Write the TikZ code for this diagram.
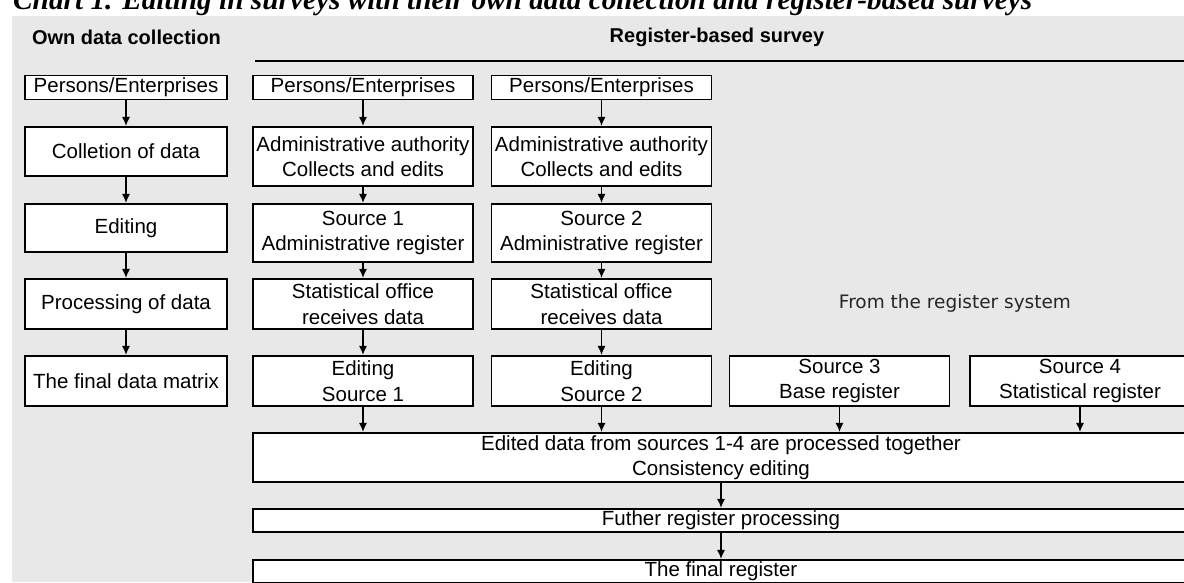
\documentclass[tikz,border=0pt]{standalone}
\usepackage{fontspec}
\setmainfont{Liberation Sans}
\newfontfamily\titlefont{Liberation Serif}
\newfontfamily\sysfont{DejaVu Sans}
\usetikzlibrary{arrows.meta}
\definecolor{panelgray}{RGB}{232,232,232}
\newcommand\boxtext{\fontsize{20.5}{25.5}\selectfont}
\begin{document}
\begin{tikzpicture}[x=1pt,y=-1pt,
  box/.style={draw, line width=1.7pt, fill=white, inner sep=0pt, align=center, font=\boxtext},
  colbox/.style={box, minimum width=202pt},
  regbox/.style={box, minimum width=220pt},
  widebox/.style={box, minimum width=936pt},
  flow/.style={-{Latex[length=9pt,width=8pt]}, line width=1.2pt},
  head/.style={font=\fontsize{20}{24}\selectfont\bfseries}]
  \useasboundingbox (0,0) rectangle (1184,583);
  \clip (0,0) rectangle (1184,583);
  \node[anchor=base west, inner sep=0pt, font=\titlefont\fontsize{29.3}{32}\selectfont\bfseries\itshape] (title) at (13,10) {Chart 1. Editing in surveys with their own data collection and register-based surveys};
  \fill[panelgray] (12,16) rectangle (1190,582);
  \node[head] (ownhead) at (126.5,37) {Own data collection};
  \node[head] (reghead) at (717,37) {Register-based survey};
  \draw[line width=1.2pt] (255,61) -- (1190,61);

  \node[colbox, minimum height=24pt] (own0) at (126,87.5) {Persons/Enterprises};
  \node[colbox, minimum height=49.5pt] (own1) at (126,151.5) {Colletion of data};
  \node[colbox, minimum height=48.5pt] (own2) at (126,228) {Editing};
  \node[colbox, minimum height=50.5pt] (own3) at (126,304) {Processing of data};
  \node[colbox, minimum height=50.5pt] (own4) at (126,381) {The final data matrix};

  \node[regbox, minimum height=24pt] (regA0) at (363,87.5) {Persons/Enterprises};
  \node[regbox, minimum height=59.5pt] (regA1) at (363,156.5) {Administrative authority\\Collects and edits};
  \node[regbox, minimum height=58.5pt] (regA2) at (363,233) {Source 1\\Administrative register};
  \node[regbox, minimum height=50.5pt] (regA3) at (363,304) {Statistical office\\receives data};
  \node[regbox, minimum height=50.5pt] (regA4) at (363,381) {Editing\\Source 1};

  \node[regbox, minimum height=24pt] (regB0) at (601.5,87.5) {Persons/Enterprises};
  \node[regbox, minimum height=59.5pt] (regB1) at (601.5,156.5) {Administrative authority\\Collects and edits};
  \node[regbox, minimum height=58.5pt] (regB2) at (601.5,233) {Source 2\\Administrative register};
  \node[regbox, minimum height=50.5pt] (regB3) at (601.5,304) {Statistical office\\receives data};
  \node[regbox, minimum height=50.5pt] (regB4) at (601.5,381) {Editing\\Source 2};

  \node[font=\sysfont\fontsize{18.5}{22}\selectfont, text=black!85] (fromsys) at (955,303) {From the register system};
  \node[regbox, minimum height=50.5pt] (regC) at (839.5,381) {Source 3\\Base register};
  \node[regbox, minimum height=50.5pt] (regD) at (1080,381) {Source 4\\Statistical register};

  \node[widebox, minimum height=49.5pt] (comb) at (721,457.5) {Edited data from sources 1-4 are processed together\\Consistency editing};
  \node[widebox, minimum height=23.5pt] (further) at (721,520.5) {Futher register processing};
  \node[widebox, minimum height=23.5pt] (final) at (721,571.5) {The final register};

  \foreach \i [count=\j] in {0,...,3} {
    \draw[flow] (own\i) -- (own\j);
    \draw[flow] (regA\i) -- (regA\j);
    \draw[flow] (regB\i) -- (regB\j);
  }
  \foreach \n in {regA4,regB4,regC,regD}
    \draw[flow] (\n) -- (\n |- comb.north);
  \draw[flow] (comb) -- (further);
  \draw[flow] (further) -- (final);
\end{tikzpicture}
\end{document}
